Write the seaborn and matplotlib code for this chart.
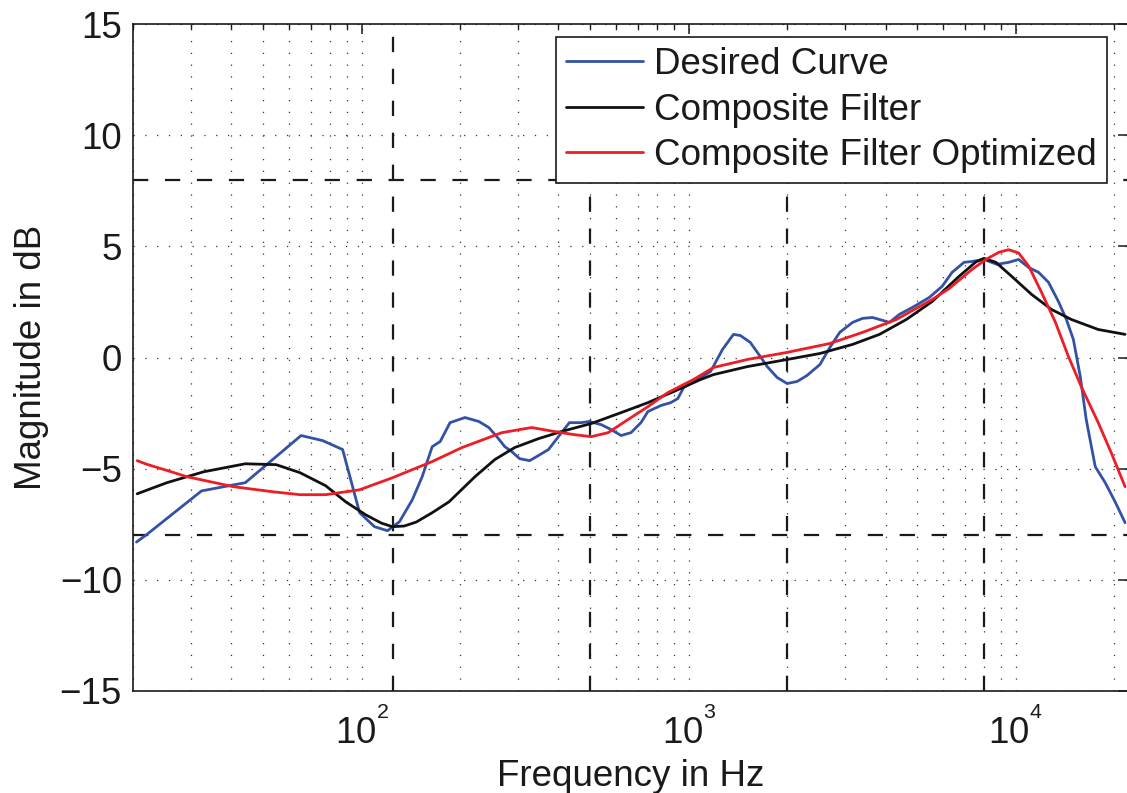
import matplotlib
matplotlib.use("Agg")
import matplotlib.pyplot as plt
from matplotlib.ticker import LogLocator, NullFormatter
import seaborn as sns
import pandas as pd

try:
    import matplotlib._mathtext as _mt
    _mt.SHRINK_FACTOR = 0.58
    _classes = set(getattr(_mt, "_font_constant_mapping", {}).values())
    _classes.add(_mt.FontConstantsBase)
    for _c in _classes:
        _c.sup1 = 1.25
        _c.supdrop = 0.1
except Exception:
    pass

# ---------------- data ----------------
desired_f = [20.5, 22.0, 32.4, 44.1, 65.3, 76.1, 87.5, 98.6, 109.5, 120, 130.5, 142.9,
             153.2, 164.4, 173.9, 186.4, 207.1, 228.5, 244.9, 259.1, 274.1, 287.7,
             304.2, 326.4, 342.7, 372.8, 399.8, 431.8, 469.6, 496.6, 540.2, 579.3,
             621.4, 666.4, 714.8, 750.7, 822.3, 881.9, 926.1, 965.6, 1065, 1167,
             1269, 1371, 1439, 1543, 1655, 1739, 1865, 2000, 2145, 2300, 2519, 2702,
             2897, 3173, 3403, 3650, 3833, 4111, 4410, 4831, 5441, 5958, 6391, 6950,
             7351, 7994, 8758, 9522, 10210, 10950, 11750, 12600, 13510, 14290, 15010,
             15760, 16430, 17510, 18780, 20140, 21600]
desired_db = [-8.3, -7.97, -6.0, -5.63, -3.51, -3.74, -4.14, -6.98, -7.61, -7.79, -7.39,
              -6.40, -5.36, -4.01, -3.78, -2.93, -2.70, -2.88, -3.15, -3.56, -4.01, -4.23,
              -4.55, -4.64, -4.46, -4.14, -3.56, -2.93, -2.93, -2.88, -3.02, -3.24, -3.51,
              -3.38, -2.93, -2.43, -2.16, -2.03, -1.85, -1.35, -0.99, -0.63, 0.36, 1.04,
              0.99, 0.68, 0.05, -0.41, -0.90, -1.17, -1.08, -0.81, -0.32, 0.45, 1.13, 1.58,
              1.76, 1.80, 1.71, 1.58, 1.94, 2.25, 2.70, 3.20, 3.83, 4.28, 4.32, 4.41, 4.19,
              4.28, 4.41, 4.05, 3.83, 3.38, 2.52, 1.71, 0.81, -0.86, -2.79, -4.91, -5.63,
              -6.49, -7.43]

composite_f = [20.6, 25.4, 32.9, 44.1, 54.8, 64.8, 77.7, 89.4, 102.8, 115, 124.2, 135,
               147, 164.4, 185.1, 222.2, 255.5, 293.8, 347.5, 408.3, 503.7, 621.4, 750.7,
               900.5, 1088, 1191, 1511, 2000, 2519, 3173, 3833, 4631, 5556, 6711, 7558,
               7994, 8697, 9723, 11180, 12870, 14800, 17880, 21600]
composite_db = [-6.13, -5.63, -5.14, -4.78, -4.82, -5.18, -5.77, -6.49, -7.07, -7.45, -7.61,
                -7.58, -7.40, -6.98, -6.49, -5.36, -4.59, -4.05, -3.65, -3.33, -2.97, -2.48,
                -2.03, -1.53, -0.99, -0.77, -0.41, -0.09, 0.18, 0.59, 1.04, 1.71, 2.52, 3.65,
                4.30, 4.46, 4.28, 3.65, 2.84, 2.16, 1.71, 1.26, 1.04]

optimized_f = [20.6, 22.0, 25.4, 29.2, 40.5, 53.6, 64.8, 77.7, 98.6, 124.2, 164.4, 202.8,
               268.3, 331.1, 388.8, 447.2, 503.7, 567.3, 652.6, 750.7, 863.6, 1035, 1191,
               1511, 2000, 2702, 3403, 4318, 5556, 6258, 7351, 8107, 8880, 9522, 10210,
               10950, 11995, 13230, 14490, 15870, 17880, 19590, 21600]
optimized_db = [-4.64, -4.80, -5.08, -5.36, -5.81, -6.04, -6.17, -6.17, -5.95, -5.41, -4.68,
                -4.05, -3.38, -3.15, -3.33, -3.47, -3.56, -3.38, -2.79, -2.21, -1.58, -0.99,
                -0.45, -0.09, 0.23, 0.63, 1.13, 1.71, 2.61, 3.10, 3.96, 4.41, 4.73, 4.85, 4.70,
                4.12, 2.93, 1.58, 0.05, -1.31, -2.93, -4.28, -5.81]

series_names = ["Desired Curve", "Composite Filter", "Composite Filter Optimized"]
series_colors = ["#3352A6", "#111111", "#EE1C25"]

band_freqs = [125, 500, 2000, 8000]
band_limits = [-8, 8]

y_ticks = [-15, -10, -5, 0, 5, 10, 15]
x_limits = [20, 22050]

# ---------------- style ----------------
sns.set_style("white")
plt.rcParams["font.family"] = ["Liberation Sans", "DejaVu Sans"]
plt.rcParams["mathtext.default"] = "regular"
plt.rcParams["lines.scale_dashes"] = False

FS = 26.5

fig = plt.figure(figsize=(11.27, 7.93), dpi=100)
ax = fig.add_axes([133 / 1127, 102 / 793, 995 / 1127, 667 / 793])

frames = []
for name, f, db in [(series_names[0], desired_f, desired_db),
                    (series_names[1], composite_f, composite_db),
                    (series_names[2], optimized_f, optimized_db)]:
    frames.append(pd.DataFrame({"freq": f, "db": db, "series": name}))
df = pd.concat(frames, ignore_index=True)

for name, col in zip(series_names, series_colors):
    sub = df[df["series"] == name]
    sns.lineplot(data=sub, x="freq", y="db", ax=ax, color=col, linewidth=2.0,
                 label=name, estimator=None, sort=False, zorder=3)

for fb in band_freqs:
    ax.axvline(fb, color="#1a1a1a", linewidth=1.6, linestyle=(0, (11, 12)), zorder=2)
for lv in band_limits:
    ax.axhline(lv, color="#1a1a1a", linewidth=1.6, linestyle=(0, (11, 12)), zorder=2)

ax.set_xscale("log")
ax.set_xlim(*x_limits)
ax.set_ylim(y_ticks[0], y_ticks[-1])
ax.set_yticks(y_ticks)
ax.xaxis.set_major_locator(LogLocator(base=10, numticks=20))
ax.xaxis.set_minor_locator(LogLocator(base=10, subs=range(2, 10), numticks=100))
ax.xaxis.set_minor_formatter(NullFormatter())

ax.grid(True, which="major", axis="both", color="#333333", linewidth=0.9,
        linestyle=(0, (0.9, 7.6)))
ax.grid(True, which="minor", axis="x", color="#333333", linewidth=0.9,
        linestyle=(0, (0.9, 7.6)))
ax.set_axisbelow(True)

ax.tick_params(axis="both", which="both", direction="in", top=True, right=True,
               labelsize=FS, colors="#1a1a1a")
ax.tick_params(axis="both", which="major", length=7, width=1.1)
ax.tick_params(axis="both", which="minor", length=3.5, width=1.0)
ax.tick_params(axis="x", which="major", pad=12)
ax.tick_params(axis="y", which="major", pad=8)

for sp in ax.spines.values():
    sp.set_color("#1a1a1a")
    sp.set_linewidth(1.2)

ax.set_xlabel("Frequency in Hz", fontsize=FS, labelpad=5, color="#1a1a1a")
ax.set_ylabel("Magnitude in dB", fontsize=FS, labelpad=8, color="#1a1a1a")

leg = ax.legend(loc="upper right", bbox_to_anchor=((1107 - 133) / 995, (691 - 37) / 667),
                borderaxespad=0, fontsize=FS, frameon=True, fancybox=False,
                framealpha=1, edgecolor="#1a1a1a", handlelength=2.1,
                handletextpad=0.3, borderpad=0.27, labelspacing=0.29)
leg.get_frame().set_linewidth(1.2)
leg.set_zorder(5)
for t in leg.get_texts():
    t.set_color("#1a1a1a")

fig.savefig("out.png", dpi=100)
